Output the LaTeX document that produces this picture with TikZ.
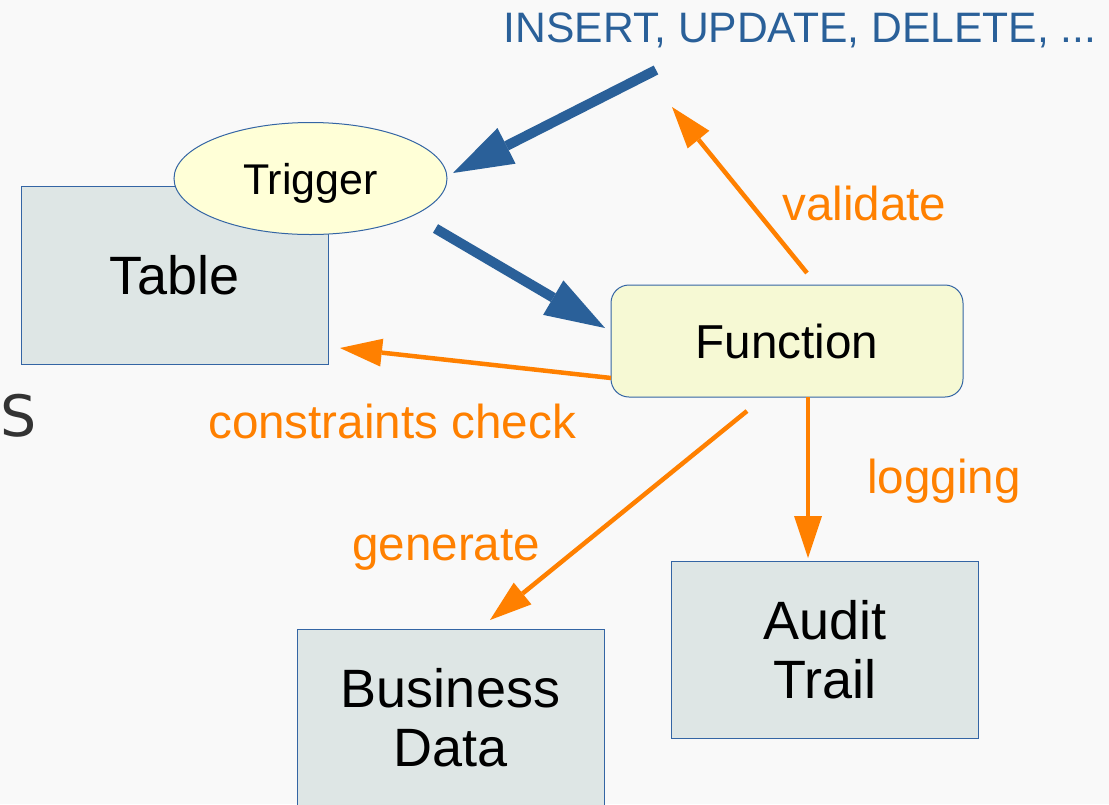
\documentclass[tikz,border=0pt]{standalone}
\usepackage{fontspec}
\setmainfont{Liberation Sans}
\newfontfamily\dejavu{DejaVu Sans}
\usetikzlibrary{arrows.meta,shapes.geometric}
\definecolor{bgc}{HTML}{F9F9F9}
\definecolor{boxc}{HTML}{DEE6E5}
\definecolor{bordc}{HTML}{3465A4}
\definecolor{trigc}{HTML}{FFFFD7}
\definecolor{funcc}{HTML}{F6F9D4}
\definecolor{bluec}{HTML}{2A6099}
\definecolor{orc}{HTML}{FF8000}
\definecolor{sc}{HTML}{333333}
\begin{document}
\begin{tikzpicture}[x=1pt,y=-1pt,
  box/.style={draw=bordc, line width=1pt, fill=boxc, inner sep=0pt},
  boxtext/.style={inner sep=0pt, align=center, font=\fontsize{54}{59}\selectfont},
  bluearr/.style={draw=bluec, line width=10pt, -{Triangle[length=60pt,width=40pt,line width=0pt]}},
  orarr/.style={draw=orc, line width=4.5pt, -{Triangle[length=42pt,width=28pt,line width=0pt]}},
  orlabel/.style={anchor=base west, inner sep=0pt, text=orc, font=\fontsize{47.6}{56}\selectfont}]
\useasboundingbox (0,0) rectangle (1109,804);
\fill[bgc] (0,0) rectangle (1109,804);
\begin{scope}
\clip (0,0) rectangle (1109,804);
% boxes
\node[box, minimum width=307pt, minimum height=178pt, font=\fontsize{54}{59}\selectfont] (tab) at (174.5,275) {Table};
\node[ellipse, draw=bordc, line width=1pt, fill=trigc, inner sep=0pt, minimum width=273pt, minimum height=112pt, text depth=0pt, font=\fontsize{43}{50}\selectfont] (trig) at (310.5,178.5) {Trigger};
\node[draw=bordc, line width=1pt, fill=funcc, rounded corners=18pt, inner sep=0pt, minimum width=352pt, minimum height=112pt, font=\fontsize{47.6}{54}\selectfont] (fn) at (787,341) {Function};
\node[box, minimum width=307pt, minimum height=195pt] (bd) at (450.5,726.5) {};
\node[boxtext] (bdt) at (450.5,718) {Business\\Data};
\node[box, minimum width=307pt, minimum height=177pt] (at) at (824.5,649.5) {};
\node[boxtext] (att) at (825,649.5) {Audit\\Trail};
\end{scope}
% texts
\node[anchor=base, inner sep=0pt, text=bluec, font=\fontsize{42.6}{50}\selectfont] (ins) at (800,42) {INSERT, UPDATE, DELETE, ...};
\node[anchor=base west, inner sep=0pt, text=sc, font=\dejavu\fontsize{57}{64}\selectfont] (s) at (0,436) {S};
\node[orlabel] (lval) at (782,220) {validate};
\node[orlabel] (lcon) at (208,438) {constraints check};
\node[orlabel] (llog) at (867,493) {logging};
\node[orlabel] (lgen) at (352,560) {generate};
% connector ends
\coordinate (a1s) at (656,70);
\coordinate (a1e) at (453,173);
\coordinate (a2s) at (435.5,228.5);
\coordinate (a2e) at (605,328);
\coordinate (vs) at (807,273);
\coordinate (ve) at (672,107);
\coordinate (cs) at (611,378);
\coordinate (ce) at (340,348);
\coordinate (ls) at (808,397);
\coordinate (le) at (808,558);
\coordinate (gs) at (747,411);
\coordinate (ge) at (490,620);
% connectors
\draw[bluearr] (a1s) -- (a1e);
\draw[bluearr] (a2s) -- (a2e);
\draw[orarr] (vs) -- (ve);
\draw[orarr] (cs) -- (ce);
\draw[orarr] (ls) -- (le);
\draw[orarr] (gs) -- (ge);
\end{tikzpicture}
\end{document}
